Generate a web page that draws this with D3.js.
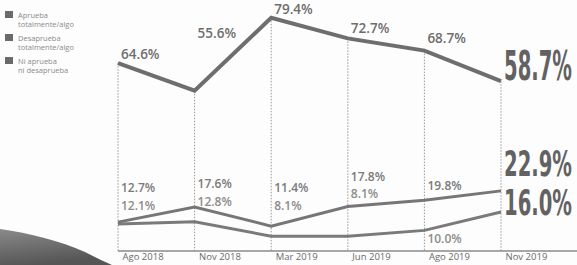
<!DOCTYPE html>
<html><head><meta charset="utf-8">
<script src="https://cdn.jsdelivr.net/npm/d3@7"></script>
<style>
html,body{margin:0;padding:0;background:#fdfdfd;}
svg{display:block;}
</style></head>
<body><svg id="c" width="577" height="265"></svg>
<script>
const categories = ["Ago 2018","Nov 2018","Mar 2019","Jun 2019","Ago 2019","Nov 2019"];
const aprueba    = [64.6, 55.6, 79.4, 72.7, 68.7, 58.7];
const desaprueba = [12.7, 17.6, 11.4, 17.8, 19.8, 22.9];
const niNi       = [12.1, 12.8, 8.1, 8.1, 10.0, 16.0];
const legendLabels = [["Aprueba","totalmente/algo"],["Desaprueba","totalmente/algo"],["Ni aprueba","ni desaprueba"]];

const svg = d3.select("#c");
const W = 577, H = 265;
const x = d3.scalePoint().domain(categories).range([118, 501]);
const y = d3.scaleLinear().domain([0, 80]).range([261, 16]);
const axisY = 251;

// scan shadow bottom-left
const grad = svg.append("defs").append("linearGradient").attr("id","sh")
  .attr("x1","0").attr("y1","0").attr("x2","0.3").attr("y2","1");
grad.append("stop").attr("offset","0").attr("stop-color","#8a8a8a");
grad.append("stop").attr("offset","1").attr("stop-color","#555");
svg.append("path")
  .attr("d","M0,229 C30,233 60,241 85,252 C95,257 105,262 112,265 L0,265 Z")
  .attr("fill","url(#sh)");

// vertical dotted guides
svg.append("g").selectAll("line").data(categories).join("line")
  .attr("x1", d => x(d)).attr("x2", d => x(d))
  .attr("y1", (d,i) => y(aprueba[i])).attr("y2", axisY)
  .attr("stroke","#999").attr("stroke-width",1).attr("stroke-dasharray","1.5,1.5");

// axis
svg.append("line").attr("x1", x(categories[0])).attr("x2", W)
  .attr("y1", axisY).attr("y2", axisY).attr("stroke","#8a8a8a").attr("stroke-width",1.6);
const ax = svg.append("g").attr("transform",`translate(0,${axisY})`)
  .call(d3.axisBottom(x).tickSize(0).tickPadding(0));
ax.select(".domain").remove();
ax.selectAll("text").attr("text-anchor","start").attr("dx","4").attr("y",2.5)
  .attr("font-family","'Open Sans', sans-serif").attr("font-size","9.5px").attr("fill","#6a6a6a");

// lines
const line = d3.line().x((d,i) => x(categories[i])).y(d => y(d));
svg.append("path").datum(niNi).attr("d", line).attr("fill","none")
  .attr("stroke","#7a7a7a").attr("stroke-width",3);
svg.append("path").datum(desaprueba).attr("d", line).attr("fill","none")
  .attr("stroke","#767676").attr("stroke-width",3);
svg.append("path").datum(aprueba).attr("d", line).attr("fill","none")
  .attr("stroke","#6e6e6e").attr("stroke-width",4);

const F = "'Open Sans', sans-serif";
// top labels
const topDy = [-4, -53, -4, -5, -8];
svg.append("g").selectAll("text").data(aprueba.slice(0,5)).join("text")
  .attr("x", (d,i) => x(categories[i]) + 3)
  .attr("y", (d,i) => y(d) + topDy[i])
  .attr("font-family",F).attr("font-weight",600).attr("font-size","13.5px").attr("fill","#6e6e6e")
  .text(d => d.toFixed(1) + "%");

// lower labels: desaprueba (upper row) and ni (lower row)
const dBase = [192, 188, 192, 181, 190];
const nBase = [210, 206, 210, 198, 243];
svg.append("g").selectAll("text").data(desaprueba.slice(0,5)).join("text")
  .attr("x", (d,i) => x(categories[i]) + 3).attr("y", (d,i) => dBase[i])
  .attr("font-family",F).attr("font-weight",600).attr("font-size","12px").attr("fill","#7a7a7a")
  .text(d => d.toFixed(1) + "%");
svg.append("g").selectAll("text").data(niNi.slice(0,5)).join("text")
  .attr("x", (d,i) => x(categories[i]) + 3).attr("y", (d,i) => nBase[i])
  .attr("font-family",F).attr("font-weight",600).attr("font-size","12px").attr("fill","#8c8c8c")
  .text(d => d.toFixed(1) + "%");

// big end labels (condensed by horizontal scaling)
const last = categories.length - 1;
const big = [[aprueba[last], 80], [desaprueba[last], 176], [niNi[last], 215]];
const targetW = 68;
svg.append("g").selectAll("text").data(big).join("text")
  .attr("x", 0).attr("y", 0)
  .attr("font-family","'Liberation Sans Narrow','DejaVu Sans Condensed',sans-serif")
  .attr("font-weight",700).attr("font-size", (d,i) => i === 0 ? "40px" : "35px")
  .attr("fill","#626262")
  .text(d => d[0].toFixed(1) + "%")
  .each(function(d) {
    const w = this.getComputedTextLength() || targetW;
    d3.select(this).attr("transform", `translate(504,${d[1]}) scale(${targetW / w},1)`);
  });

// legend
const lg = svg.append("g");
const lgY = [11, 34, 57];
legendLabels.forEach((lab, i) => {
  lg.append("rect").attr("x",5).attr("y",lgY[i]).attr("width",8).attr("height",7).attr("fill","#6a6a6a");
  lab.forEach((t, j) => {
    lg.append("text").attr("x",18).attr("y",lgY[i] + 7 + j*9)
      .attr("font-family",F).attr("font-size","7.5px").attr("fill","#8a8a8a").text(t);
  });
});
</script></body></html>
